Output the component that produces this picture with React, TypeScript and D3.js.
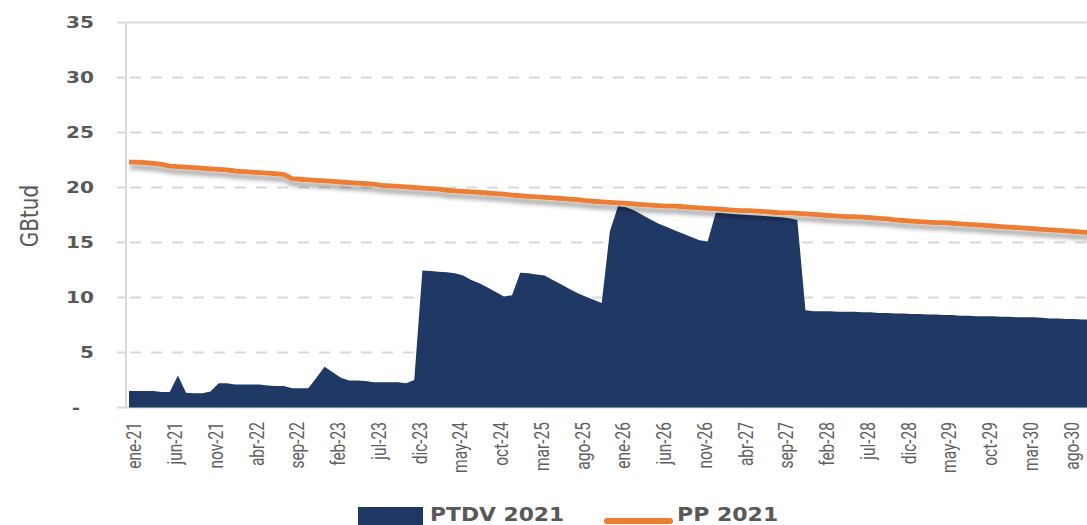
import React from "react";
import * as d3 from "d3";

const monthNames = ["ene", "feb", "mar", "abr", "may", "jun", "jul", "ago", "sep", "oct", "nov", "dic"];
const startYear = 21;
const nMonths = 120;
const categories: string[] = [];
for (let i = 0; i < nMonths; i++) {
  categories.push(monthNames[i % 12] + "-" + (startYear + Math.floor(i / 12)));
}

// PTDV 2021, GBtud, monthly from ene-21
const ptdv = [
  1.5, 1.5, 1.5, 1.5, 1.4, 1.4, 2.9, 1.35, 1.3, 1.3, 1.45, 2.2,
  2.2, 2.1, 2.1, 2.1, 2.1, 2.0, 1.95, 1.95, 1.75, 1.75, 1.75, 2.7,
  3.7, 3.2, 2.7, 2.45, 2.45, 2.4, 2.3, 2.3, 2.3, 2.3, 2.2, 2.5,
  12.45, 12.4, 12.35, 12.3, 12.2, 12.0, 11.6, 11.3, 10.9, 10.5, 10.1, 10.2,
  12.25, 12.2, 12.1, 12.0, 11.6, 11.2, 10.8, 10.4, 10.1, 9.8, 9.5, 16.0,
  18.3, 18.2, 17.9, 17.5, 17.1, 16.7, 16.4, 16.1, 15.8, 15.5, 15.2, 15.1,
  17.7, 17.65, 17.6, 17.55, 17.5, 17.45, 17.4, 17.35, 17.3, 17.2, 17.05, 8.85,
  8.75, 8.75, 8.75, 8.7, 8.7, 8.7, 8.65, 8.65, 8.6, 8.6, 8.55, 8.55,
  8.5, 8.5, 8.45, 8.45, 8.4, 8.4, 8.35, 8.35, 8.3, 8.3, 8.3, 8.25,
  8.25, 8.2, 8.2, 8.2, 8.15, 8.1, 8.1, 8.05, 8.05, 8.0, 8.0, 7.95,
];

// PP 2021
const pp = [
  22.3, 22.3, 22.25, 22.2, 22.1, 21.95, 21.9, 21.85, 21.8, 21.75, 21.7, 21.65,
  21.6, 21.5, 21.45, 21.4, 21.35, 21.3, 21.25, 21.2, 20.8, 20.75, 20.7, 20.65,
  20.6, 20.55, 20.5, 20.45, 20.4, 20.35, 20.3, 20.2, 20.15, 20.1, 20.05, 20.0,
  19.95, 19.9, 19.85, 19.75, 19.7, 19.65, 19.6, 19.55, 19.5, 19.45, 19.4, 19.3,
  19.25, 19.2, 19.15, 19.1, 19.05, 19.0, 18.95, 18.9, 18.8, 18.75, 18.7, 18.65,
  18.6, 18.55, 18.5, 18.45, 18.4, 18.35, 18.3, 18.3, 18.25, 18.2, 18.15, 18.1,
  18.05, 18.0, 17.95, 17.9, 17.9, 17.85, 17.8, 17.75, 17.7, 17.7, 17.65, 17.6,
  17.55, 17.5, 17.45, 17.4, 17.35, 17.35, 17.3, 17.25, 17.2, 17.15, 17.05, 17.0,
  16.95, 16.9, 16.85, 16.8, 16.8, 16.75, 16.7, 16.65, 16.6, 16.55, 16.5, 16.45,
  16.4, 16.35, 16.3, 16.25, 16.2, 16.15, 16.1, 16.05, 16.0, 15.95, 15.9, 15.85,
];

const yTicks = [0, 5, 10, 15, 20, 25, 30, 35];
const yTickLabels = ["-", "5", "10", "15", "20", "25", "30", "35"];

export default function App() {
  const width = 1087;
  const height = 525;
  const axisX = 126;

  const x = d3
    .scalePoint<string>()
    .domain(categories)
    .range([129, 129 + 8.15 * (nMonths - 1)]);
  const y = d3.scaleLinear().domain([0, 35]).range([407.5, 22.5]);

  const area = d3
    .area<number>()
    .x((d, i) => x(categories[i]) as number)
    .y0(y(0))
    .y1((d) => y(d));

  const ppLine = d3
    .line<number>()
    .x((d, i) => x(categories[i]) as number)
    .y((d) => y(d));

  const tickCats = categories.filter((c, i) => i % 5 === 0);

  return (
    <svg
      width={width}
      height={height}
      style={{ position: "absolute", left: 0, top: 0, background: "#fff" }}
    >
      <defs>
        <filter id="shadow" x="-5%" y="-50%" width="110%" height="200%">
          <feDropShadow dx="1" dy="5" stdDeviation="2" floodColor="#000" floodOpacity="0.35" />
        </filter>
        <clipPath id="plot">
          <rect x={axisX} y={0} width={width - axisX} height={410} />
        </clipPath>
      </defs>

      {/* grid */}
      {yTicks.map((t) => (
        <g key={t}>
          <line x1={117} x2={axisX} y1={y(t)} y2={y(t)} stroke="#d9d9d9" strokeWidth={2} />
          <line
            x1={axisX}
            x2={width}
            y1={y(t)}
            y2={y(t)}
            stroke="#d9d9d9"
            strokeWidth={2}
            strokeDasharray={t === 0 || t === 35 ? undefined : "11,10"}
            strokeDashoffset={-4}
          />
        </g>
      ))}
      <line x1={axisX} x2={axisX} y1={y(35)} y2={y(0) + 1} stroke="#d9d9d9" strokeWidth={2} />

      {/* y labels */}
      {yTicks.map((t, i) => (
        <text
          key={t}
          transform={`translate(${t === 0 ? 80 : 94},${y(t)}) scale(1.22,1)`}
          textAnchor="end"
          dy="0.36em"
          fontFamily="DejaVu Sans"
          fontWeight="bold"
          fontSize={16.5}
          fill="#595959"
        >
          {yTickLabels[i]}
        </text>
      ))}
      <text
        transform={`translate(38,216) scale(1.25,1) rotate(-90)`}
        textAnchor="middle"
        fontFamily="DejaVu Sans"
        fontSize={20}
        fill="#595959"
      >
        GBtud
      </text>

      <g clipPath="url(#plot)">
        <path d={area(ptdv) || ""} fill="#203864" />
        <path
          d={ppLine(pp) || ""}
          fill="none"
          stroke="#ED7D31"
          strokeWidth={4.8}
          strokeLinejoin="round"
          filter="url(#shadow)"
        />
      </g>

      {/* x labels */}
      {tickCats.map((c) => (
        <text
          key={c}
          transform={`translate(${(x(c) as number) + 5},422) scale(1.3,1) rotate(-90)`}
          textAnchor="end"
          dy="0.36em"
          fontFamily="Roboto"
          fontSize={15.5}
          fill="#5f5f5f"
        >
          {c}
        </text>
      ))}

      {/* legend */}
      <rect x={358} y={507} width={65} height={25} fill="#203864" />
      <text
        transform="translate(430,521) scale(1.12,1)"
        fontFamily="DejaVu Sans"
        fontWeight="bold"
        fontSize={19.5}
        fill="#595959"
      >
        PTDV 2021
      </text>
      <line x1={607} x2={670} y1={521} y2={521} stroke="#ED7D31" strokeWidth={6} strokeLinecap="round" />
      <text
        transform="translate(677,521) scale(1.13,1)"
        fontFamily="DejaVu Sans"
        fontWeight="bold"
        fontSize={19.5}
        fill="#595959"
      >
        PP 2021
      </text>
    </svg>
  );
}
